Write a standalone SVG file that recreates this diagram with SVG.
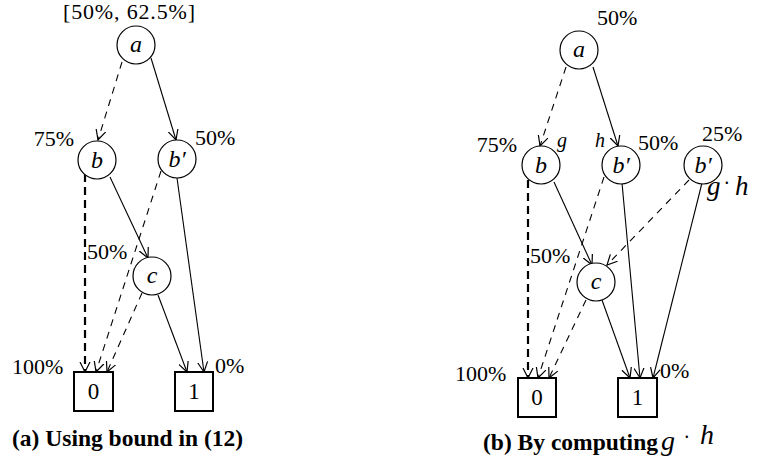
<svg xmlns="http://www.w3.org/2000/svg" width="758" height="465" viewBox="0 0 758 465" font-family="Liberation Serif, Times New Roman, serif">
<defs>
<marker id="arr" markerUnits="userSpaceOnUse" markerWidth="12" markerHeight="12" refX="10" refY="5" orient="auto" viewBox="0 0 12 10">
<path d="M0,0 L10,5 L0,10" fill="none" stroke="#000" stroke-width="1.2"/>
</marker>
</defs>
<style>
.node circle{fill:#fff;stroke:#000;stroke-width:1.2}
.node rect{fill:#fff;stroke:#000;stroke-width:2}
.lbl{font-style:italic;font-size:24px;text-anchor:middle}
.box{font-size:23px;text-anchor:middle}
.pct{font-size:22px}
.it{font-style:italic}
.cap{font-weight:bold;font-size:23.5px}
.e{fill:none;stroke:#000;stroke-width:1.1;marker-end:url(#arr)}
.d{stroke-dasharray:7,6}
.t{stroke-width:2.2;stroke-dasharray:8,5}
</style>
<rect width="758" height="465" fill="#fff"/>

<g id="edges">
<line class="e d" x1="122" y1="62" x2="98" y2="140"/>
<line class="e" x1="151" y1="58" x2="176" y2="140"/>
<line class="e t" x1="85" y1="174" x2="85" y2="372"/>
<line class="e" x1="110" y1="177" x2="148" y2="258"/>
<line class="e d" x1="161" y1="171" x2="96" y2="372"/>
<line class="e d" x1="142" y1="293" x2="107" y2="372"/>
<line class="e" x1="158" y1="295" x2="187" y2="372"/>
<line class="e" x1="177" y1="178" x2="204" y2="372"/>
<line class="e d" x1="566" y1="67" x2="540" y2="146"/>
<line class="e" x1="593" y1="67" x2="618" y2="146"/>
<line class="e t" x1="528" y1="180" x2="528" y2="378"/>
<line class="e" x1="554" y1="182" x2="592" y2="265"/>
<line class="e d" x1="604" y1="177" x2="538" y2="378"/>
<line class="e d" x1="586" y1="300" x2="549" y2="378"/>
<line class="e" x1="602" y1="300" x2="630" y2="378"/>
<line class="e" x1="622" y1="183" x2="640" y2="378"/>
<line class="e d" x1="689" y1="180" x2="607" y2="265"/>
<line class="e" x1="702" y1="183" x2="653" y2="378"/>
</g>

<g id="La" class="node"><circle cx="136" cy="45" r="19"/><text class="lbl" font-family="Liberation Serif, serif" x="136" y="52">a</text></g>
<g id="Lb" class="node"><circle cx="97" cy="160" r="19"/><text class="lbl" font-family="Liberation Serif, serif" x="97" y="168">b</text></g>
<g id="Lb2" class="node"><circle cx="177" cy="159" r="19"/><text class="lbl" font-family="Liberation Serif, serif" x="177" y="167">b′</text></g>
<g id="Lc" class="node"><circle cx="152" cy="276" r="19"/><text class="lbl" font-family="Liberation Serif, serif" x="152" y="283">c</text></g>
<g id="L0" class="node"><rect x="74" y="372" width="39" height="39"/><text class="box" font-family="Liberation Serif, serif" x="93.5" y="399">0</text></g>
<g id="L1" class="node"><rect x="175" y="372" width="38" height="39"/><text class="box" font-family="Liberation Serif, serif" x="194" y="399">1</text></g>

<g font-family="Liberation Serif, serif">
<text class="pct" x="63" y="19" textLength="132" lengthAdjust="spacing">[50%, 62.5%]</text>
<text class="pct" x="74" y="146" text-anchor="end">75%</text>
<text class="pct" x="195" y="145">50%</text>
<text class="pct" x="87" y="259">50%</text>
<text class="pct" x="12" y="374">100%</text>
<text class="pct" x="215" y="373">0%</text>
<text class="cap" x="12" y="446">(a) Using bound in (12)</text>
</g>

<g id="Ra" class="node"><circle cx="579" cy="50" r="19"/><text class="lbl" font-family="Liberation Serif, serif" x="579" y="57">a</text></g>
<g id="Rb" class="node"><circle cx="541" cy="165" r="19"/><text class="lbl" font-family="Liberation Serif, serif" x="541" y="173">b</text></g>
<g id="Rb2" class="node"><circle cx="621" cy="165" r="19"/><text class="lbl" font-family="Liberation Serif, serif" x="621" y="173">b′</text></g>
<g id="Rb3" class="node"><circle cx="703" cy="165" r="19"/><text class="lbl" font-family="Liberation Serif, serif" x="703" y="173">b′</text></g>
<g id="Rc" class="node"><circle cx="596" cy="282" r="19"/><text class="lbl" font-family="Liberation Serif, serif" x="596" y="289">c</text></g>
<g id="R0" class="node"><rect x="518" y="378" width="38" height="39"/><text class="box" font-family="Liberation Serif, serif" x="537" y="405">0</text></g>
<g id="R1" class="node"><rect x="618" y="378" width="39" height="39"/><text class="box" font-family="Liberation Serif, serif" x="637.5" y="405">1</text></g>

<g font-family="Liberation Serif, serif">
<text class="pct" x="597" y="25">50%</text>
<text class="pct" x="517" y="152" text-anchor="end">75%</text>
<text class="it" x="557" y="147" font-size="20">g</text>
<text class="it" x="595" y="147" font-size="20">h</text>
<text class="pct" x="638" y="150">50%</text>
<text class="pct" x="702" y="141">25%</text>
<text class="it" x="707" y="195" font-size="27">g</text>
<text class="it" x="724" y="190" font-size="20">·</text>
<text class="it" x="735" y="195" font-size="27">h</text>
<text class="pct" x="530" y="263">50%</text>
<text class="pct" x="455" y="381">100%</text>
<text class="pct" x="660" y="378">0%</text>
<text class="cap" x="483" y="450">(b) By computing</text>
<text class="it" x="661" y="450" font-size="28">g</text>
<text class="it" x="684" y="444" font-size="20">·</text>
<text class="it" x="700" y="444" font-size="28">h</text>
</g>
</svg>
